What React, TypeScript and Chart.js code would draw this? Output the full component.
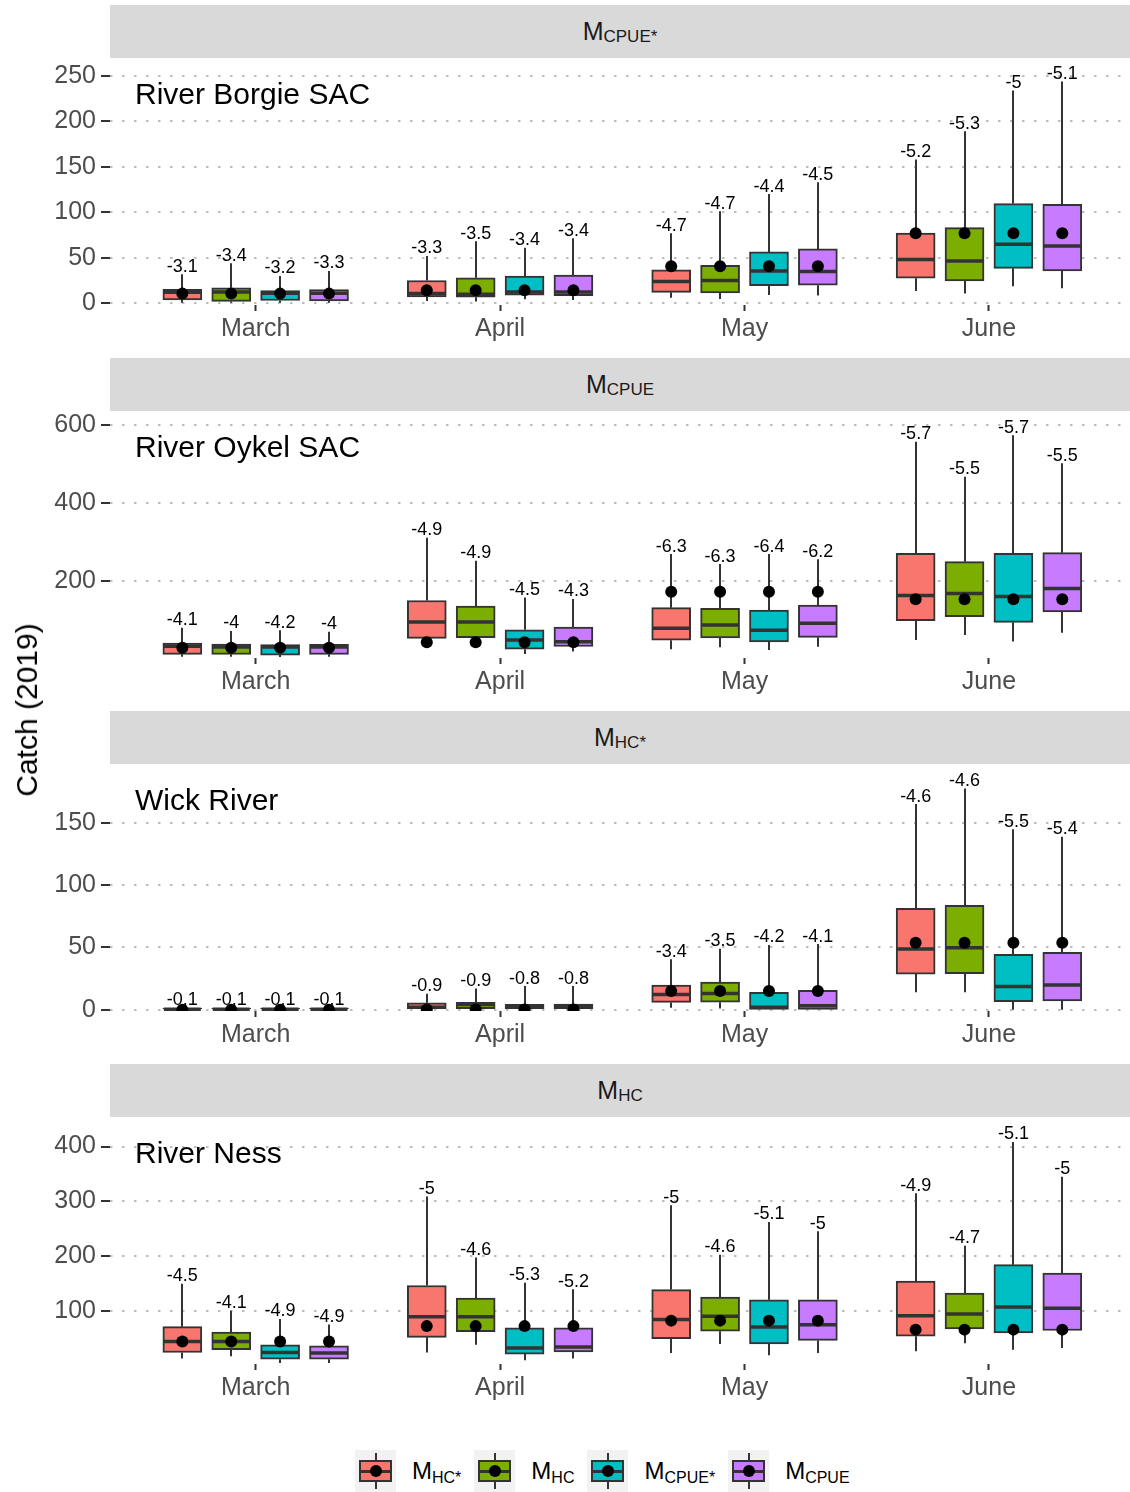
import React, { useEffect, useRef } from 'react';
import { Chart, registerables } from 'chart.js';

Chart.register(...registerables);

const FONT = '"Liberation Sans", Arial, Helvetica, sans-serif';
Chart.defaults.font.family = FONT;

// ---------- shared categories ----------
const months = ['March', 'April', 'May', 'June'];
const methodSubs = ['HC*', 'HC', 'CPUE*', 'CPUE'];
const methodColors = ['#F8766D', '#7CAE00', '#00BFC4', '#C77CFF'];
const dodge = [-0.3, -0.1, 0.1, 0.3];

// ---------- River Borgie SAC (rows = methods, cols = months) ----------
const borgieLow = [[0.5, 2.5, 6, 13.5], [0.5, 2, 4.8, 10.6], [0.5, 4.4, 9, 18.7], [0.5, 3.7, 8.4, 16.5]];
const borgieQ1 = [[3.7, 7, 12, 27.5], [2, 6.6, 11.4, 24.5], [3, 9, 19.4, 38.4], [2.5, 8.4, 19.8, 35.5]];
const borgieMedian = [[12, 10.6, 23.8, 48], [12.5, 10, 25, 46.5], [11, 12.5, 35.5, 64.8], [11, 12.5, 34.8, 63]];
const borgieQ3 = [[15.4, 25, 36.6, 77], [17, 28, 41.7, 83], [14, 30, 56.4, 109.5], [15, 31, 59.7, 108.8]];
const borgieHigh = [[32, 52, 77, 158], [44, 68, 101, 189], [30, 61, 120, 233.6], [35.5, 71.5, 133, 243.5]];
const borgieMean = [10.6, 14.3, 40.6, 77];
const borgieLabels = [['-3.1', '-3.3', '-4.7', '-5.2'], ['-3.4', '-3.5', '-4.7', '-5.3'], ['-3.2', '-3.4', '-4.4', '-5'], ['-3.3', '-3.4', '-4.5', '-5.1']];
const borgieTicks = [0, 50, 100, 150, 200, 250];

// ---------- River Oykel SAC ----------
const oykelLow = [[6, 45, 25, 48.7], [6, 48, 30, 61.5], [5, 13, 23, 45], [6, 19, 31.6, 67.5]];
const oykelQ1 = [[12, 53, 48, 98], [12, 55, 54, 108.5], [10, 25, 43.6, 94], [12, 32, 55.5, 120.5]];
const oykelMedian = [[33, 95, 78.6, 163], [31, 95, 87, 168], [31, 49, 74, 160], [31, 44, 91.5, 181]];
const oykelQ3 = [[41, 150, 131.6, 271], [38.5, 136, 130, 249.6], [37, 75, 125.6, 271], [37.6, 82, 138.5, 272.6]];
const oykelHigh = [[80, 311, 269, 557], [72, 252, 243.6, 467.5], [74, 158, 269, 574], [70, 154, 256, 501.7]];
const oykelMean = [29, 43, 172.6, 153];
const oykelLabels = [['-4.1', '-4.9', '-6.3', '-5.7'], ['-4', '-4.9', '-6.3', '-5.5'], ['-4.2', '-4.5', '-6.4', '-5.7'], ['-4', '-4.3', '-6.2', '-5.5']];
const oykelTicks = [200, 400, 600];

// ---------- Wick River ----------
const wickLow = [[0, 0, 1.6, 14], [0, 0, 1, 14], [0, 0, 0.3, 0], [0, 0, 0.3, 0]];
const wickQ1 = [[0, 0, 5.9, 28.6], [0, 0, 6.1, 29], [0, 0, 0.3, 6.4], [0, 0, 0.3, 7]];
const wickMedian = [[0.5, 2, 12.3, 48.7], [0.5, 4.3, 13, 49.7], [0.5, 2.7, 2, 18.7], [0.5, 2.7, 3.2, 19.8]];
const wickQ3 = [[1.2, 5.6, 19.8, 81.3], [1.2, 6, 22.2, 83.7], [1.2, 4.3, 14, 44.4], [1.2, 4.5, 15.5, 46]];
const wickHigh = [[2, 12.8, 40.6, 165], [2, 17, 49, 177.5], [2, 19, 52, 144.7], [2, 19, 52.7, 138.8]];
const wickMean = [0.1, 0.3, 15, 53.7];
const wickLabels = [['-0.1', '-0.9', '-3.4', '-4.6'], ['-0.1', '-0.9', '-3.5', '-4.6'], ['-0.1', '-0.8', '-4.2', '-5.5'], ['-0.1', '-0.8', '-4.1', '-5.4']];
const wickTicks = [0, 50, 100, 150];

// ---------- River Ness ----------
const nessLow = [[14, 25, 24, 27], [18, 39, 40.5, 41.7], [6, 11, 20, 30], [6, 14, 24, 33]];
const nessQ1 = [[25, 52.6, 50, 54.5], [30, 63, 63.6, 68], [12.6, 22, 40.5, 60.5], [12.6, 26, 47, 65]];
const nessMedian = [[45, 90, 85, 92], [45, 90, 91, 95], [25, 33, 71.5, 108], [24, 35, 75.7, 105.5]];
const nessQ3 = [[72, 147, 139.5, 155], [62, 124, 126, 133], [39, 70, 121, 185], [37, 70, 121, 169.8]];
const nessHigh = [[150, 309, 293, 315], [101, 198, 203, 219.6], [86, 152, 262.7, 408.4], [76, 140, 245.7, 345]];
const nessMean = [45, 73, 83, 66.6];
const nessLabels = [['-4.5', '-5', '-5', '-4.9'], ['-4.1', '-4.6', '-4.6', '-4.7'], ['-4.9', '-5.3', '-5.1', '-5.1'], ['-4.9', '-5.2', '-5', '-5']];
const nessTicks = [100, 200, 300, 400];

const riverNames = ['River Borgie SAC', 'River Oykel SAC', 'Wick River', 'River Ness'];
const stripSubs = ['CPUE*', 'CPUE', 'HC*', 'HC'];

type Spec = {
  title: string; strip: string;
  low: number[][]; q1: number[][]; median: number[][]; q3: number[][]; high: number[][];
  mean: number[]; labels: string[][]; ticks: number[]; yMin: number; yMax: number; top: number;
};

const panels: Spec[] = [
  { title: riverNames[0], strip: stripSubs[0], low: borgieLow, q1: borgieQ1, median: borgieMedian, q3: borgieQ3, high: borgieHigh, mean: borgieMean, labels: borgieLabels, ticks: borgieTicks, yMin: -1.9, yMax: 269.4, top: 58 },
  { title: riverNames[1], strip: stripSubs[1], low: oykelLow, q1: oykelQ1, median: oykelMedian, q3: oykelQ3, high: oykelHigh, mean: oykelMean, labels: oykelLabels, ticks: oykelTicks, yMin: 2.6, yMax: 635.9, top: 411 },
  { title: riverNames[2], strip: stripSubs[2], low: wickLow, q1: wickQ1, median: wickMedian, q3: wickQ3, high: wickHigh, mean: wickMean, labels: wickLabels, ticks: wickTicks, yMin: -1.0, yMax: 197.1, top: 764 },
  { title: riverNames[3], strip: stripSubs[3], low: nessLow, q1: nessQ1, median: nessMedian, q3: nessQ3, high: nessHigh, mean: nessMean, labels: nessLabels, ticks: nessTicks, yMin: 4.0, yMax: 453.9, top: 1117 },
];

const CANVAS_H = 287;
const PANEL_H = 247;

function makeBoxPlugin(spec: Spec) {
  return {
    id: 'boxExtras',
    beforeDatasetsDraw(chart: any) {
      const { ctx, chartArea: a, scales } = chart;
      const x = scales.x, y = scales.y;
      ctx.save();
      ctx.beginPath();
      ctx.rect(a.left, a.top, a.right - a.left, a.bottom - a.top);
      ctx.clip();
      ctx.strokeStyle = '#333333';
      ctx.lineWidth = 2;
      for (let s = 0; s < 4; s++) {
        for (let i = 0; i < months.length; i++) {
          const px = Math.round(x.getPixelForValue(i + 1 + dodge[s]));
          ctx.beginPath();
          ctx.moveTo(px, y.getPixelForValue(spec.low[s][i]));
          ctx.lineTo(px, y.getPixelForValue(spec.q1[s][i]));
          ctx.moveTo(px, y.getPixelForValue(spec.q3[s][i]));
          ctx.lineTo(px, y.getPixelForValue(spec.high[s][i]));
          ctx.stroke();
        }
      }
      ctx.restore();
    },
    afterDatasetDraw(chart: any, args: any) {
      const s = args.index;
      if (s >= 4) return;
      const { ctx, chartArea: a, scales } = chart;
      const y = scales.y;
      ctx.save();
      ctx.beginPath();
      ctx.rect(a.left, a.top, a.right - a.left, a.bottom - a.top);
      ctx.clip();
      ctx.strokeStyle = '#333333';
      ctx.lineWidth = 3.5;
      args.meta.data.forEach((el: any, i: number) => {
        const py = y.getPixelForValue(spec.median[s][i]);
        ctx.beginPath();
        ctx.moveTo(el.x - el.width / 2 + 1, py);
        ctx.lineTo(el.x + el.width / 2 - 1, py);
        ctx.stroke();
      });
      ctx.restore();
    },
    afterDatasetsDraw(chart: any) {
      const { ctx, chartArea: a, scales } = chart;
      const x = scales.x, y = scales.y;
      ctx.save();
      ctx.fillStyle = '#000000';
      ctx.textAlign = 'center';
      ctx.textBaseline = 'alphabetic';
      ctx.font = `18px ${FONT}`;
      for (let s = 0; s < 4; s++) {
        for (let i = 0; i < months.length; i++) {
          const px = x.getPixelForValue(i + 1 + dodge[s]);
          const py = y.getPixelForValue(spec.high[s][i]);
          ctx.fillText(spec.labels[s][i], px, py - 2.5);
        }
      }
      ctx.textAlign = 'left';
      ctx.font = `30px ${FONT}`;
      ctx.fillText(spec.title, a.left + 25, a.top + 46);
      ctx.restore();
    },
  };
}

function Panel({ spec }: { spec: Spec }) {
  const ref = useRef<HTMLCanvasElement>(null);
  useEffect(() => {
    const datasets: any[] = methodSubs.map((m, s) => ({
      type: 'bar',
      label: 'M' + m,
      order: 1,
      data: months.map((_, i) => ({ x: i + 1 + dodge[s], y: [spec.q1[s][i], spec.q3[s][i]] })),
      backgroundColor: methodColors[s],
      borderColor: '#333333',
      borderWidth: 2,
      borderSkipped: false,
      barThickness: 39,
      grouped: false,
    }));
    datasets.push({
      type: 'scatter',
      label: 'mean',
      order: 0,
      data: months.flatMap((_, i) => dodge.map((d) => ({ x: i + 1 + d, y: spec.mean[i] }))),
      backgroundColor: '#000000',
      borderWidth: 0,
      pointRadius: 6,
      pointHoverRadius: 6,
    });
    const chart = new Chart(ref.current as HTMLCanvasElement, {
      type: 'bar',
      data: { datasets },
      plugins: [makeBoxPlugin(spec)],
      options: {
        animation: false,
        responsive: false,
        devicePixelRatio: 1,
        layout: { padding: 0, autoPadding: false },
        plugins: { legend: { display: false }, tooltip: { enabled: false } },
        scales: {
          x: {
            type: 'linear',
            min: 0.404,
            max: 4.577,
            offset: false,
            afterBuildTicks: (sc: any) => { sc.ticks = months.map((_, i) => ({ value: i + 1 })); },
            afterFit: (sc: any) => { sc.height = CANVAS_H - PANEL_H; sc.paddingLeft = 0; sc.paddingRight = 0; },
            ticks: {
              callback: (_v: any, idx: number) => months[idx],
              font: { size: 25, family: FONT },
              color: '#4D4D4D',
              padding: 3,
              maxRotation: 0,
              autoSkip: false,
            },
            grid: { offset: false, drawOnChartArea: false, drawTicks: true, tickLength: 6, tickColor: '#333333', tickWidth: 2, color: '#333333' },
            border: { display: false },
          },
          y: {
            type: 'linear',
            min: spec.yMin,
            max: spec.yMax,
            afterBuildTicks: (sc: any) => { sc.ticks = spec.ticks.map((v) => ({ value: v })); },
            afterFit: (sc: any) => { sc.width = 110; sc.paddingTop = 0; sc.paddingBottom = 0; },
            ticks: {
              font: { size: 25, family: FONT },
              color: '#4D4D4D',
              padding: 5,
            },
            grid: {
              color: '#BDBDBD',
              lineWidth: 2,
              tickLength: 9,
              tickColor: '#333333',
              tickWidth: 2,
              tickBorderDash: [],
            },
            border: { display: false, dash: [2.5, 9.5] },
          },
        },
      } as any,
    });
    return () => chart.destroy();
  }, [spec]);
  return (
    <canvas
      ref={ref}
      width={1130}
      height={CANVAS_H}
      style={{ position: 'absolute', left: 0, top: spec.top, width: 1130, height: CANVAS_H }}
    />
  );
}

function Strip({ sub, top }: { sub: string; top: number }) {
  return (
    <div
      style={{
        position: 'absolute', left: 110, top, width: 1020, height: 53, background: '#D9D9D9',
        display: 'flex', alignItems: 'center', justifyContent: 'center', fontFamily: FONT, color: '#1A1A1A',
      }}
    >
      <span style={{ fontSize: 25 }}>M</span>
      <span style={{ fontSize: 17, position: 'relative', top: 5 }}>{sub}</span>
    </div>
  );
}

function LegendKey({ color }: { color: string }) {
  return (
    <div style={{ position: 'relative', width: 41, height: 42, background: '#F2F2F2', flex: '0 0 auto' }}>
      <div style={{ position: 'absolute', left: 19.5, top: 3, width: 2, height: 36, background: '#333333' }} />
      <div style={{ position: 'absolute', left: 4, top: 10, width: 33, height: 22, boxSizing: 'border-box', background: color, border: '2px solid #333333' }} />
      <div style={{ position: 'absolute', left: 4, top: 20, width: 33, height: 2.5, background: '#333333' }} />
      <div style={{ position: 'absolute', left: 14.5, top: 15, width: 12, height: 12, borderRadius: 6, background: '#000000' }} />
    </div>
  );
}

export default function App() {
  return (
    <div style={{ position: 'absolute', left: 0, top: 0, width: 1130, height: 1492, background: '#FFFFFF', overflow: 'hidden' }}>
      {panels.map((p, k) => (
        <React.Fragment key={k}>
          <Strip sub={p.strip} top={p.top - 53} />
          <Panel spec={p} />
        </React.Fragment>
      ))}
      <div
        style={{
          position: 'absolute', left: 27, top: 710, transform: 'translate(-50%, -50%) rotate(-90deg)',
          whiteSpace: 'nowrap', fontFamily: FONT, fontSize: 30, color: '#000000',
        }}
      >
        Catch (2019)
      </div>
      <div style={{ position: 'absolute', left: 355, top: 1450, height: 42, display: 'flex', alignItems: 'center', fontFamily: FONT, color: '#000000' }}>
        {methodSubs.map((m, s) => (
          <React.Fragment key={m}>
            <LegendKey color={methodColors[s]} />
            <div style={{ marginLeft: 16, marginRight: 13, whiteSpace: 'nowrap' }}>
              <span style={{ fontSize: 24 }}>M</span>
              <span style={{ fontSize: 16, position: 'relative', top: 4 }}>{m}</span>
            </div>
          </React.Fragment>
        ))}
      </div>
    </div>
  );
}
